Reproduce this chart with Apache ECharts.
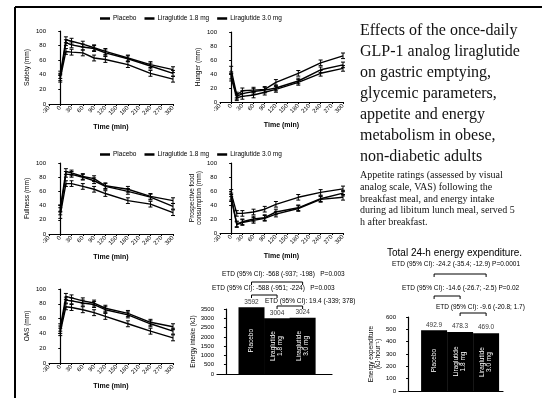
<!DOCTYPE html>
<html lang="en">
<head>
  <meta charset="UTF-8">
  <title>Liraglutide appetite and energy</title>
  <script src="https://cdn.jsdelivr.net/npm/echarts@6/dist/echarts.min.js"></script>
  <style>
    html, body { margin: 0; padding: 0; background: #fff; }
    #main { width: 542px; height: 407px; }
  </style>
</head>
<body>
  <div id="main"></div>
  <script>
    // groups and sampling times (min)
    var groups = ['Placebo', 'Liraglutide 1.8 mg', 'Liraglutide 3.0 mg']
    var timePts = [0, 15, 30, 60, 90, 120, 180, 240, 300]
    // rough size of the error bars (mm)
    var semBars = [5, 4, 4, 4, 4, 4, 4, 4, 4]

    // VAS ratings (mm): placebo, 1.8 mg, 3.0 mg
    var satietyPlacebo = [35, 72, 71, 70, 63, 61, 54, 42, 34]
    var satietyLira18 = [37, 84, 81, 78, 76, 70, 62, 52, 42]
    var satietyLira30 = [40, 88, 86, 82, 77, 72, 63, 54, 47]

    var hungerPlacebo = [46, 10, 16, 17, 18, 28, 41, 56, 66]
    var hungerLira18 = [38, 8, 12, 15, 17, 20, 30, 46, 53]
    var hungerLira30 = [35, 6, 8, 10, 14, 18, 28, 41, 48]

    var fullPlacebo = [27, 71, 71, 67, 63, 57, 47, 42, 30]
    var fullLira18 = [32, 84, 84, 80, 75, 67, 60, 52, 39]
    var fullLira30 = [36, 88, 86, 81, 78, 68, 63, 53, 47]

    var pfcPlacebo = [57, 28, 28, 30, 34, 41, 51, 58, 63]
    var pfcLira18 = [52, 13, 16, 20, 22, 30, 36, 49, 57]
    var pfcLira30 = [50, 12, 15, 18, 21, 27, 35, 48, 51]

    var oasPlacebo = [42, 76, 75, 72, 68, 63, 53, 43, 34]
    var oasLira18 = [45, 85, 84, 81, 79, 72, 65, 53, 43]
    var oasLira30 = [48, 90, 88, 84, 81, 74, 67, 55, 49]

    // bar panels
    var barNames = ['Placebo', 'Liraglutide\n1.8 mg', 'Liraglutide\n3.0 mg']
    var barPos = [1, 2, 3]
    var energyIntake = [3592, 3004, 3024]        // kJ
    var energyExpenditure = [492.9, 478.3, 469.0] // kJ/hour

    var panels = [
      { name: 'Satiety (mm)', vals: [satietyPlacebo, satietyLira18, satietyLira30] },
      { name: 'Hunger (mm)', vals: [hungerPlacebo, hungerLira18, hungerLira30] },
      { name: 'Fullness (mm)', vals: [fullPlacebo, fullLira18, fullLira30] },
      { name: 'Prospective food\nconsumption (mm)', vals: [pfcPlacebo, pfcLira18, pfcLira30] },
      { name: 'OAS (mm)', vals: [oasPlacebo, oasLira18, oasLira30] }
    ]

    var ink = '#000'
    var sans = 'Liberation Sans'
    var serif = 'Liberation Serif'

    var grids = [
      { left: 49, top: 31, width: 124, height: 73 },
      { left: 220, top: 32, width: 123, height: 70 },
      { left: 49, top: 163, width: 124, height: 71 },
      { left: 220, top: 163, width: 123, height: 70 },
      { left: 49, top: 289, width: 124, height: 74 },
      { left: 217, top: 309, width: 115, height: 65 },
      { left: 399, top: 317, width: 104, height: 74 }
    ]

    var xAxes = []
    var yAxes = []
    var series = []

    function errSeries(name, gi, vals) {
      return {
        type: 'custom', name: name, xAxisIndex: gi, yAxisIndex: gi, z: 3,
        data: timePts.map(function (t, k) { return [t, vals[k] - semBars[k], vals[k] + semBars[k]] }),
        renderItem: function (params, api) {
          var lo = api.coord([api.value(0), api.value(1)])
          var hi = api.coord([api.value(0), api.value(2)])
          var st = { stroke: ink, lineWidth: 1 }
          return {
            type: 'group', children: [
              { type: 'line', shape: { x1: lo[0], y1: lo[1], x2: hi[0], y2: hi[1] }, style: st },
              { type: 'line', shape: { x1: lo[0] - 2, y1: lo[1], x2: lo[0] + 2, y2: lo[1] }, style: st },
              { type: 'line', shape: { x1: hi[0] - 2, y1: hi[1], x2: hi[0] + 2, y2: hi[1] }, style: st }
            ]
          }
        }
      }
    }

    panels.forEach(function (p, gi) {
      xAxes.push({
        type: 'value', gridIndex: gi, min: -30, max: 300, interval: 30,
        axisLine: { show: true, onZero: false, lineStyle: { color: ink, width: 1.2 } },
        axisTick: { show: true, length: 2, lineStyle: { color: ink } },
        axisLabel: { rotate: 45, fontSize: 6, margin: 3, color: ink, fontFamily: sans },
        splitLine: { show: false },
        name: 'Time (min)', nameLocation: 'middle', nameGap: 20,
        nameTextStyle: { fontSize: 7, fontWeight: 'bold', color: ink, fontFamily: sans }
      })
      yAxes.push({
        type: 'value', gridIndex: gi, min: 0, max: 100, interval: 20,
        axisLine: { show: true, lineStyle: { color: ink, width: 1.2 } },
        axisTick: { show: true, length: 2, lineStyle: { color: ink } },
        axisLabel: { fontSize: 6, margin: 3, color: ink, fontFamily: sans },
        splitLine: { show: false },
        name: p.name, nameLocation: 'middle', nameGap: gi === 3 ? 14 : 18,
        nameTextStyle: { fontSize: 6.5, color: ink, fontFamily: sans, lineHeight: 7 }
      })
      p.vals.forEach(function (vals, si) {
        series.push({
          type: 'line', name: groups[si], xAxisIndex: gi, yAxisIndex: gi,
          data: timePts.map(function (t, k) { return [t, vals[k]] }),
          symbol: 'none', lineStyle: { color: ink, width: 1.4 }, itemStyle: { color: ink }
        })
        series.push(errSeries(groups[si], gi, vals))
      })
    })

    // two bar panels
    function barPanel(gi, vals, max, step, xmax, yname, gap, fmt) {
      xAxes.push({
        type: 'value', gridIndex: gi, min: -0.35, max: xmax,
        axisLine: { show: true, onZero: false, lineStyle: { color: ink, width: 1.2 } },
        axisTick: { show: false }, axisLabel: { show: false }, splitLine: { show: false }
      })
      yAxes.push({
        type: 'value', gridIndex: gi, min: 0, max: max, interval: step,
        axisLine: { show: true, lineStyle: { color: ink, width: 1.2 } },
        axisTick: { show: true, length: 2, lineStyle: { color: ink } },
        axisLabel: {
          fontSize: 6, margin: 3, color: ink, fontFamily: sans,
          formatter: function (v) { return String(v) }
        },
        splitLine: { show: false },
        name: yname, nameLocation: 'middle', nameGap: gap,
        nameTextStyle: { fontSize: 6.5, color: ink, fontFamily: sans, lineHeight: 7 }
      })
      series.push({
        type: 'bar', xAxisIndex: gi, yAxisIndex: gi, barWidth: 26, clip: false,
        data: barPos.map(function (x, i) { return [x, vals[i]] }),
        itemStyle: { color: ink },
        label: {
          show: true, position: 'inside', rotate: 90, color: '#fff', fontSize: 6.5,
          fontFamily: sans, lineHeight: 7,
          formatter: function (p) { return barNames[p.dataIndex] }
        }
      })
      series.push({
        type: 'scatter', xAxisIndex: gi, yAxisIndex: gi, symbolSize: 0, clip: false,
        data: barPos.map(function (x, i) { return [x, vals[i]] }),
        label: {
          show: true, position: 'top', distance: 2, color: ink, fontSize: 6.5, fontFamily: sans,
          formatter: function (p) { return fmt(p.value[1]) }
        }
      })
    }
    barPanel(5, energyIntake, 3500, 500, 4.15, 'Energy intake (kJ)', 19, function (v) { return String(v) })
    barPanel(6, energyExpenditure, 600, 100, 3.65, 'Energy expenditure\n(kJ\u00b7hour\u207b\u00b9)', 14, function (v) { return v.toFixed(1) })

    var legendBase = {
      data: groups, icon: 'rect', itemWidth: 10, itemHeight: 2.5, itemGap: 8,
      textStyle: { fontSize: 6.5, color: ink, fontFamily: sans, padding: [0, 0, 0, -2] }
    }

    var mCharts = echarts.init(document.getElementById('main'))
    mCharts.setOption({
      animation: false,
      backgroundColor: '#fff',
      legend: [
        Object.assign({ left: 95, top: 10 }, legendBase),
        Object.assign({ left: 95, top: 146 }, legendBase)
      ],
      grid: grids,
      xAxis: xAxes,
      yAxis: yAxes,
      series: series
    })

    // annotation brackets over the bar panels, placed from the bar positions
    function bracket(gi, a, b, y) {
      var p1 = mCharts.convertToPixel({ xAxisIndex: gi, yAxisIndex: gi }, [barPos[a], 0])
      var p2 = mCharts.convertToPixel({ xAxisIndex: gi, yAxisIndex: gi }, [barPos[b], 0])
      return {
        type: 'polyline',
        shape: { points: [[p1[0], y + 3], [p1[0], y], [p2[0], y], [p2[0], y + 3]] },
        style: { stroke: ink, lineWidth: 1, fill: null }
      }
    }
    function note(x, y, txt, size) {
      return {
        type: 'text', left: x, top: y,
        style: { text: txt, font: (size || 6.5) + 'px ' + sans, fill: ink }
      }
    }

    var graphics = [
      { type: 'line', shape: { x1: 15, y1: 7, x2: 542, y2: 7 }, style: { stroke: ink, lineWidth: 2 } },
      { type: 'line', shape: { x1: 15, y1: 7, x2: 15, y2: 398 }, style: { stroke: ink, lineWidth: 2 } },
      {
        type: 'text', left: 360, top: 20,
        style: {
          text: 'Effects of the once-daily\nGLP-1 analog liraglutide\non gastric emptying,\nglycemic parameters,\nappetite and energy\nmetabolism in obese,\nnon-diabetic adults',
          font: '16px ' + serif, lineHeight: 21, fill: '#111'
        }
      },
      {
        type: 'text', left: 360, top: 170,
        style: {
          text: 'Appetite ratings (assessed by visual\nanalog scale, VAS) following the\nbreakfast meal, and energy intake\nduring ad libitum lunch meal, served 5\nh after breakfast.',
          font: '10px ' + serif, lineHeight: 11.6, fill: '#111'
        }
      },
      note(387, 248, 'Total 24-h energy expenditure.', 10),
      note(222, 271, 'ETD (95% CI): -568 (-937; -198)   P=0.003'),
      note(212, 285, 'ETD (95% CI): -588 (-951; -224)   P=0.003'),
      note(265, 298, 'ETD (95% CI): 19.4 (-339; 378)'),
      note(392, 261, 'ETD (95% CI): -24.2 (-35.4; -12.9) P=0.0001'),
      note(402, 285, 'ETD (95% CI): -14.6 (-26.7; -2.5) P=0.02'),
      note(436, 304, 'ETD (95% CI): -9.6 (-20.8; 1.7)'),
      bracket(5, 0, 2, 282),
      bracket(5, 0, 1, 295),
      bracket(5, 1, 2, 306),
      bracket(6, 0, 2, 274),
      bracket(6, 0, 1, 296),
      bracket(6, 1, 2, 313)
    ]
    mCharts.setOption({ graphic: graphics })
  </script>
</body>
</html>
